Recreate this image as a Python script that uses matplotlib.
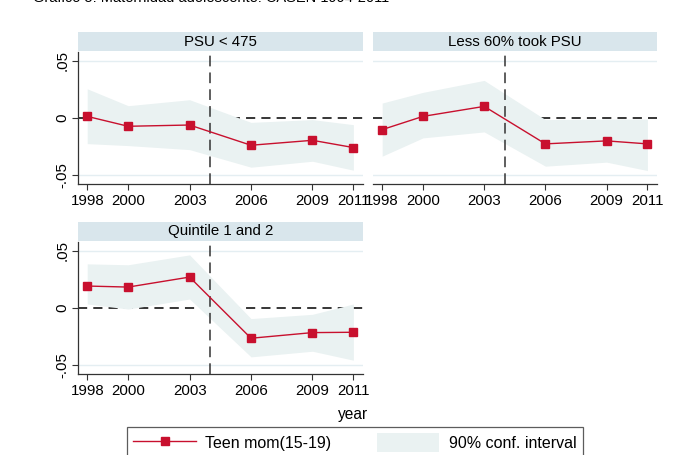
import matplotlib
matplotlib.use("Agg")
import matplotlib.pyplot as plt
from matplotlib.lines import Line2D
from matplotlib.patches import Patch

plt.rcParams['font.family'] = ['Liberation Sans', 'DejaVu Sans']

years = [1998, 2000, 2003, 2006, 2009, 2011]
panel_titles = ["PSU < 475", "Less 60% took PSU", "Quintile 1 and 2"]

est_psu = [0.0014, -0.0072, -0.0061, -0.0237, -0.0194, -0.0257]
hi_psu = [0.0254, 0.0107, 0.0159, -0.0038, -0.0014, -0.0058]
lo_psu = [-0.0223, -0.0240, -0.0275, -0.0428, -0.0376, -0.0454]

est_less60 = [-0.0101, 0.0014, 0.0101, -0.0225, -0.0199, -0.0225]
hi_less60 = [0.0130, 0.0223, 0.0327, -0.0014, -0.0009, -0.0009]
lo_less60 = [-0.0332, -0.0173, -0.0121, -0.0419, -0.0384, -0.0457]

est_q12 = [0.0191, 0.0182, 0.0269, -0.0263, -0.0214, -0.0211]
hi_q12 = [0.0384, 0.0376, 0.0462, -0.0092, -0.0055, 0.0035]
lo_q12 = [0.0035, -0.0009, 0.0078, -0.0425, -0.0376, -0.0454]

yticks = [-0.05, 0, 0.05]
ytick_labels = ["-.05", "0", ".05"]
reform_year = 2004

series = [(est_psu, lo_psu, hi_psu), (est_less60, lo_less60, hi_less60), (est_q12, lo_q12, hi_q12)]

W, H = 691, 455
fig = plt.figure(figsize=(W / 100, H / 100), dpi=100)

LINE = '#C8102E'
FILL = '#EAF2F2'
STRIP = '#D9E6EC'
GRID = '#E4EEF2'

def box(l, r, t, b):
    return [l / W, 1 - b / H, (r - l) / W, (b - t) / H]

panels = [(78, 363, 52, 184, True), (373, 657, 52, 184, False), (78, 363, 242, 374, True)]

for (l, r, t, b, showy), title, (est, lo, hi) in zip(panels, panel_titles, series):
    ax = fig.add_axes(box(l, r, t, b))
    ax.set_xlim(1997.55, 2011.47)
    ax.set_ylim(-0.0574, 0.0574)
    for yv in [-0.05, 0.05]:
        ax.axhline(yv, color=GRID, lw=1.0, zorder=0)
    ax.axhline(0, color='black', lw=1.1, ls=(0, (6, 4)), zorder=1)
    ax.fill_between(years, lo, hi, color=FILL, lw=0, zorder=2)
    ax.axvline(reform_year, color='#333333', lw=1.1, ls=(0, (7, 4)), zorder=3)
    ax.plot(years, est, color=LINE, lw=1.0, marker='s', markersize=6,
            markerfacecolor=LINE, markeredgecolor=LINE, zorder=4)
    ax.set_xticks(years)
    ax.set_xticklabels([str(y) for y in years], fontsize=10.8)
    ax.tick_params(axis='x', length=4, width=0.8, color='#333333', pad=3)
    for s in ['top', 'right']:
        ax.spines[s].set_visible(False)
    ax.spines['bottom'].set_color('#333333')
    ax.spines['bottom'].set_linewidth(0.9)
    if showy:
        ax.set_yticks(yticks)
        ax.set_yticklabels(ytick_labels, fontsize=10.8, rotation=90, va='center')
        ax.tick_params(axis='y', length=4, width=0.8, color='#333333', pad=2)
        ax.spines['left'].set_color('#333333')
        ax.spines['left'].set_linewidth(0.9)
    else:
        ax.set_yticks([])
        ax.spines['left'].set_visible(False)
    sax = fig.add_axes(box(l, r, t - 20, t - 1))
    sax.set_facecolor(STRIP)
    sax.set_xticks([]); sax.set_yticks([])
    for s in sax.spines.values():
        s.set_visible(False)
    sax.text(0.5, 0.5, title, ha='center', va='center', fontsize=10.8, transform=sax.transAxes)

fig.text(353 / W, 1 - 414 / H, "year", ha='center', va='center', fontsize=11.2)
fig.text(33 / W, 1 - 2 / H, "Gráfico 5: Maternidad adolescente: CASEN 1994-2011",
         ha='left', va='baseline', fontsize=10.5)

handles = [Line2D([], [], color=LINE, lw=1.0, marker='s', markersize=6,
                  markerfacecolor=LINE, markeredgecolor=LINE),
           Patch(facecolor=FILL, edgecolor='none')]
leg = fig.legend(handles, ["Teen mom(15-19)", "90% conf. interval"], loc='upper left',
                 bbox_to_anchor=(127 / W, 0, 456 / W, 1 - 427 / H), mode='expand', ncol=2,
                 fontsize=11.5, frameon=True, fancybox=False, handlelength=3.9,
                 handleheight=1.4, borderpad=0.4, borderaxespad=0, columnspacing=3,
                 handletextpad=0.6)
leg.get_frame().set_edgecolor('#333333')
leg.get_frame().set_linewidth(0.9)

fig.savefig('out.png', dpi=100)
